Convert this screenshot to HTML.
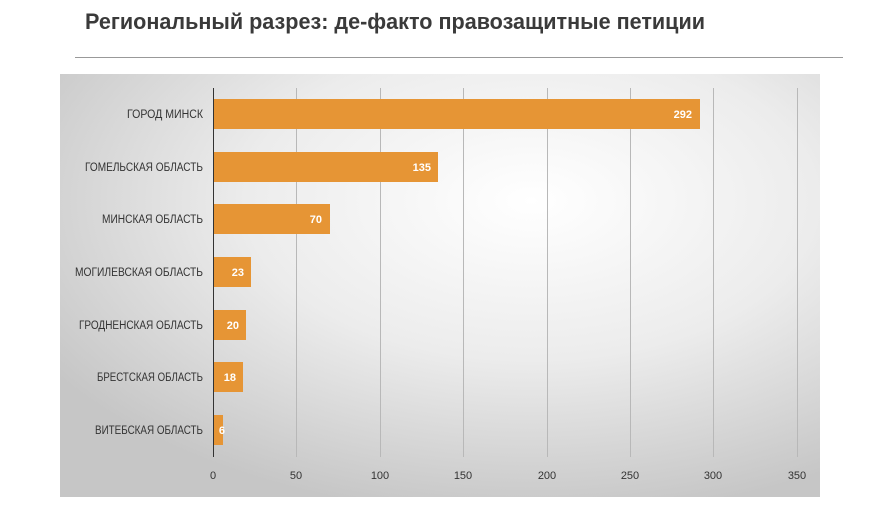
<!DOCTYPE html>
<html><head><meta charset="utf-8"><style>
body{margin:0;width:880px;height:521px;background:#fff;overflow:hidden;font-family:"Liberation Sans","DejaVu Sans",sans-serif}
</style></head><body>
<svg width="880" height="521" xmlns="http://www.w3.org/2000/svg" font-family="Liberation Sans, DejaVu Sans, sans-serif">
<defs>
<radialGradient id="g" cx="0.62" cy="0.3" r="0.75">
<stop offset="0" stop-color="#ffffff"/><stop offset="0.5" stop-color="#ececec"/><stop offset="1" stop-color="#c6c6c6"/>
</radialGradient>
</defs>
<text x="85" y="29" font-size="22" font-weight="bold" fill="#3a3a3a" textLength="620" lengthAdjust="spacingAndGlyphs">Региональный разрез: де-факто правозащитные петиции</text>
<line x1="75" y1="57.5" x2="843" y2="57.5" stroke="#999" stroke-width="1"/>
<rect x="60" y="74" width="760" height="423" fill="url(#g)"/>
<g stroke="#b8b8b8" stroke-width="1">
<line x1="296.5" y1="88" x2="296.5" y2="457"/><line x1="380.5" y1="88" x2="380.5" y2="457"/>
<line x1="463.5" y1="88" x2="463.5" y2="457"/><line x1="547.5" y1="88" x2="547.5" y2="457"/>
<line x1="630.5" y1="88" x2="630.5" y2="457"/><line x1="713.5" y1="88" x2="713.5" y2="457"/>
<line x1="797.5" y1="88" x2="797.5" y2="457"/>
</g>
<g fill="#e69535">
<rect x="213" y="99" width="487" height="30"/>
<rect x="213" y="152" width="225" height="30"/>
<rect x="213" y="204" width="117" height="30"/>
<rect x="213" y="257" width="38" height="30"/>
<rect x="213" y="310" width="33" height="30"/>
<rect x="213" y="362" width="30" height="30"/>
<rect x="213" y="415" width="10" height="30"/>
</g>
<line x1="213.5" y1="88" x2="213.5" y2="457" stroke="#333" stroke-width="1"/>
<g fill="#fff" font-size="11" font-weight="bold" text-anchor="end">
<text x="692" y="118">292</text><text x="431" y="171">135</text><text x="322" y="223">70</text>
<text x="244" y="276">23</text><text x="239" y="329">20</text><text x="236" y="381">18</text><text x="225" y="434">6</text>
</g>
<g fill="#333" font-size="11.5" text-anchor="end" lengthAdjust="spacingAndGlyphs">
<text x="203" y="118" textLength="76" lengthAdjust="spacingAndGlyphs">ГОРОД МИНСК</text>
<text x="203" y="171" textLength="118" lengthAdjust="spacingAndGlyphs">ГОМЕЛЬСКАЯ ОБЛАСТЬ</text>
<text x="203" y="223" textLength="101" lengthAdjust="spacingAndGlyphs">МИНСКАЯ ОБЛАСТЬ</text>
<text x="203" y="276" textLength="128" lengthAdjust="spacingAndGlyphs">МОГИЛЕВСКАЯ ОБЛАСТЬ</text>
<text x="203" y="329" textLength="124" lengthAdjust="spacingAndGlyphs">ГРОДНЕНСКАЯ ОБЛАСТЬ</text>
<text x="203" y="381" textLength="106" lengthAdjust="spacingAndGlyphs">БРЕСТСКАЯ ОБЛАСТЬ</text>
<text x="203" y="434" textLength="108" lengthAdjust="spacingAndGlyphs">ВИТЕБСКАЯ ОБЛАСТЬ</text>
</g>
<g fill="#333" font-size="11" text-anchor="middle">
<text x="213" y="479">0</text><text x="296" y="479">50</text><text x="380" y="479">100</text>
<text x="463" y="479">150</text><text x="547" y="479">200</text><text x="630" y="479">250</text>
<text x="713" y="479">300</text><text x="797" y="479">350</text>
</g>
</svg>
</body></html>
